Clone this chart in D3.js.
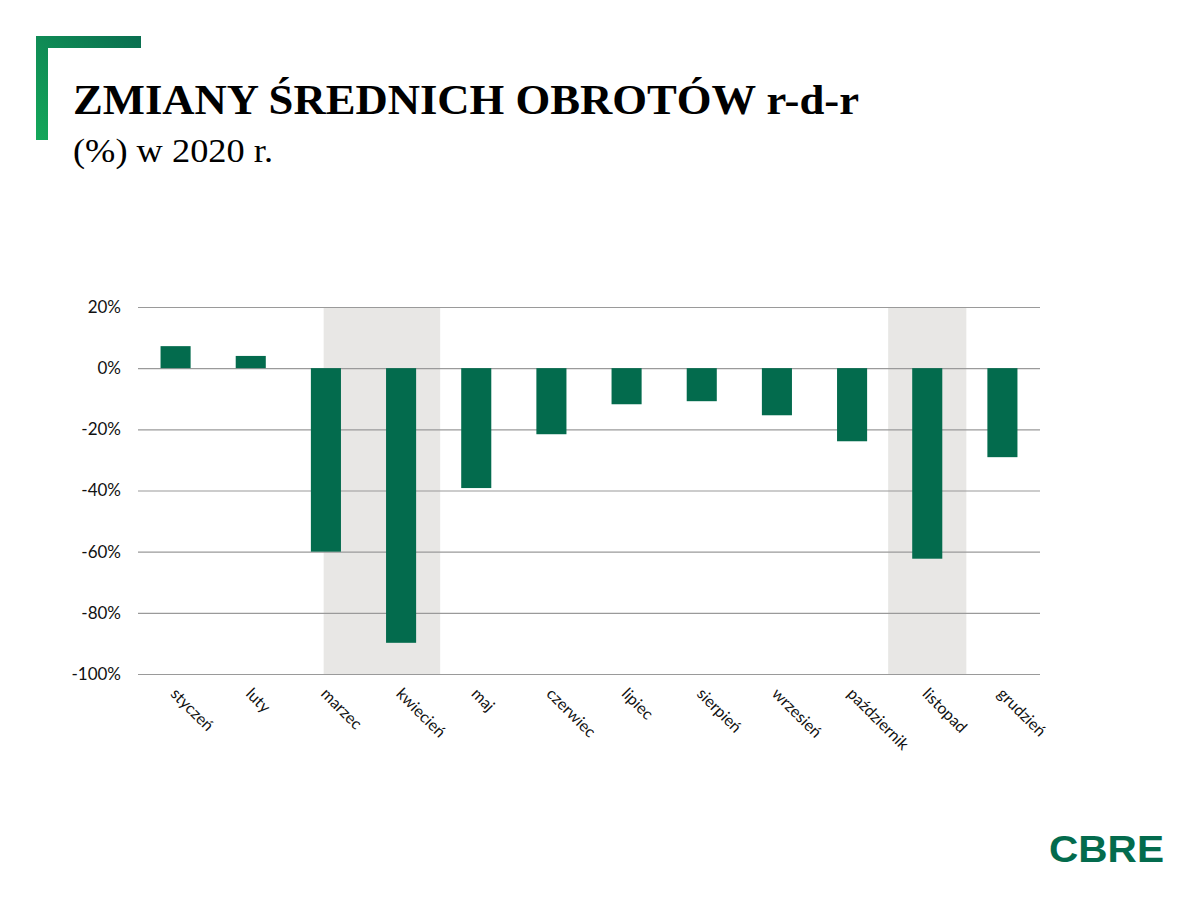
<!DOCTYPE html>
<html>
<head>
<meta charset="utf-8">
<script src="https://cdn.jsdelivr.net/npm/d3@7"></script>
<style>
  body { margin: 0; background: #fff; }
  svg { display: block; }
</style>
</head>
<body>
<div id="chart"></div>
<script>
"use strict";

// data
const months = ['styczeń', 'luty', 'marzec', 'kwiecień', 'maj', 'czerwiec',
  'lipiec', 'sierpień', 'wrzesień', 'październik', 'listopad', 'grudzień'];
const changes = [7.2, 4.0, -60.0, -89.8, -39.2, -21.6, -11.8, -10.8, -15.4, -23.9, -62.3, -29.1];
const y_ticks = [20, 0, -20, -40, -60, -80, -100];
// lockdown periods, first and last month shaded
const shaded = [['marzec', 'kwiecień'], ['listopad', 'listopad']];

const W = 1200, H = 900;
const green = '#036b4d';

const svg = d3.select('#chart').append('svg')
  .attr('width', W)
  .attr('height', H);

// corner bracket with gradient
const defs = svg.append('defs');
const grad = defs.append('linearGradient')
  .attr('id', 'brk')
  .attr('x1', 1).attr('y1', 0).attr('x2', 0).attr('y2', 1);
grad.append('stop').attr('offset', 0).attr('stop-color', '#0a6e50');
grad.append('stop').attr('offset', 1).attr('stop-color', '#14a85a');

svg.append('path')
  .attr('d', 'M36,36 H141 V48 H48 V140 H36 Z')
  .attr('fill', 'url(#brk)');

// titles
svg.append('text')
  .text('ZMIANY ŚREDNICH OBROTÓW r-d-r')
  .attr('x', 73)
  .attr('y', 114)
  .attr('font-family', '"Liberation Serif", "DejaVu Serif", serif')
  .attr('font-weight', 'bold')
  .attr('font-size', 42)
  .attr('textLength', 786)
  .attr('lengthAdjust', 'spacingAndGlyphs')
  .attr('fill', '#000');

svg.append('text')
  .text('(%) w 2020 r.')
  .attr('x', 73)
  .attr('y', 162)
  .attr('font-family', '"Liberation Serif", "DejaVu Serif", serif')
  .attr('font-size', 34)
  .attr('textLength', 200)
  .attr('lengthAdjust', 'spacingAndGlyphs')
  .attr('fill', '#000');

// scales
const plot_left = 138, plot_right = 1040, plot_top = 307, plot_bottom = 674;

const x = d3.scaleBand()
  .domain(months)
  .range([plot_left, plot_right])
  .paddingInner(0.6)
  .paddingOuter(0.3);

const step = x.step();
const center = m => x(m) + x.bandwidth() / 2;

const y = d3.scaleLinear()
  .domain([-100, 20])
  .range([plot_bottom, plot_top]);

// shaded periods
svg.append('g')
  .selectAll('rect')
  .data(shaded)
  .join('rect')
  .attr('x', d => d[0] === d[1] ? center(d[0]) - 0.52 * step : center(d[0]) - 0.03 * step)
  .attr('width', d => d[0] === d[1] ? 1.04 * step : center(d[1]) + 0.52 * step - center(d[0]) + 0.03 * step)
  .attr('y', plot_top)
  .attr('height', plot_bottom - plot_top)
  .attr('fill', '#e8e7e5');

// grid + y axis labels
const yAxis = d3.axisLeft(y)
  .tickValues(y_ticks)
  .tickSize(-(plot_right - plot_left))
  .tickPadding(17)
  .tickFormat(d => d + '%');

const gy = svg.append('g')
  .attr('transform', `translate(${plot_left},0)`)
  .call(yAxis);
gy.select('.domain').remove();
gy.selectAll('.tick line')
  .attr('stroke', '#9a9a9a')
  .attr('stroke-width', 1.2);
gy.selectAll('.tick text')
  .attr('font-family', 'Lato, "Open Sans", sans-serif')
  .attr('font-size', 17)
  .attr('fill', '#111');

// bars
svg.append('g')
  .selectAll('rect')
  .data(months.map((m, i) => ({ m, v: changes[i] })))
  .join('rect')
  .attr('x', d => x(d.m))
  .attr('width', x.bandwidth())
  .attr('y', d => y(Math.max(0, d.v)))
  .attr('height', d => Math.abs(y(d.v) - y(0)))
  .attr('fill', green);

// x labels, rotated
svg.append('g')
  .selectAll('text')
  .data(months)
  .join('text')
  .text(d => d)
  .attr('transform', d => `translate(${center(d) - 3},${plot_bottom + 18}) rotate(45)`)
  .attr('text-anchor', 'start')
  .attr('dominant-baseline', 'middle')
  .attr('font-family', 'Lato, "Open Sans", sans-serif')
  .attr('font-size', 16)
  .attr('fill', '#111');

// logo
svg.append('text')
  .text('CBRE')
  .attr('x', 1049)
  .attr('y', 862)
  .attr('font-family', '"Liberation Sans", Arial, sans-serif')
  .attr('font-weight', 'bold')
  .attr('font-size', 36)
  .attr('textLength', 115)
  .attr('lengthAdjust', 'spacingAndGlyphs')
  .attr('fill', green);
</script>
</body>
</html>
